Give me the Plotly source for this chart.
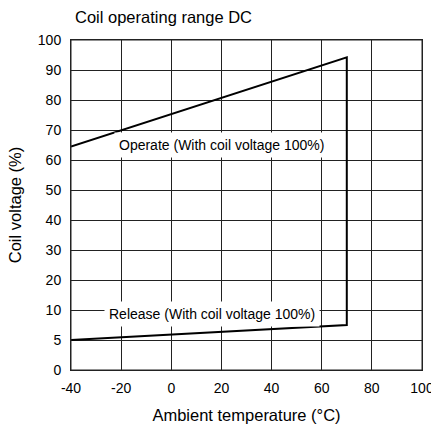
import numpy as np
import plotly.graph_objects as go

# Data
temperature = [-40, 70, 70, -40]          # °C
coil_voltage = [64.5, 94.2, 7.5, 5.0]     # %
x_ticks = [-40, -20, 0, 20, 40, 60, 80, 100]
y_levels = [0, 5, 10, 20, 30, 40, 50, 60, 70, 80, 90, 100]
y_tick_labels = [str(v) for v in y_levels]
operate_label = "Operate (With coil voltage 100%)"
release_label = "Release (With coil voltage 100%)"

# Piecewise axis: each labelled level is equally spaced
y_pos_levels = list(range(len(y_levels)))


def ypos(v):
    return np.interp(v, y_levels, y_pos_levels)


FONT = "Liberation Sans, Arial, sans-serif"

fig = go.Figure()
fig.add_trace(go.Scatter(
    x=temperature,
    y=ypos(coil_voltage),
    mode="lines",
    line=dict(color="black", width=2),
    hoverinfo="skip",
    showlegend=False,
))

fig.add_annotation(x=20.2, y=ypos(65), text=operate_label, showarrow=False,
                   bgcolor="white", borderpad=4,
                   font=dict(family=FONT, size=14, color="black"))
fig.add_annotation(x=16.2, y=ypos(9.3), text=release_label, showarrow=False,
                   bgcolor="white", borderpad=4,
                   font=dict(family=FONT, size=14, color="black"))

# plot-area frame (paper coordinates)
fig.add_shape(type="rect", xref="paper", yref="paper", x0=0, y0=0, x1=1, y1=1,
              line=dict(color="#222", width=1), layer="above")

fig.update_layout(
    width=431, height=429,
    margin=dict(l=71, r=9, t=40, b=59, autoexpand=False),
    paper_bgcolor="white", plot_bgcolor="white",
    font=dict(family=FONT, size=14, color="black"),
    title=dict(text="Coil operating range DC", x=75 / 431, xref="container", xanchor="left",
               y=1 - 17 / 429, yref="container", yanchor="middle", automargin=False,
               font=dict(family=FONT, size=16.5, color="black")),
)
fig.update_xaxes(
    range=[-40, 100], tickvals=x_ticks, ticktext=[str(v) for v in x_ticks],
    showgrid=True, gridcolor="#222", gridwidth=1,
    showline=True, linecolor="#222", linewidth=1, mirror=True,
    zeroline=False, ticks="outside", ticklen=5, tickcolor="white",
    ticklabeloverflow="allow",
    automargin=False,
    title=dict(text="Ambient temperature (°C)", standoff=14,
               font=dict(family=FONT, size=16.5)),
    tickfont=dict(family=FONT, size=14),
)
fig.update_yaxes(
    range=[0, len(y_levels) - 1], tickvals=y_pos_levels, ticktext=y_tick_labels,
    showgrid=True, gridcolor="#222", gridwidth=1,
    showline=True, linecolor="#222", linewidth=1, mirror=True,
    zeroline=False, ticks="outside", ticklen=6, tickcolor="white",
    ticklabeloverflow="allow",
    automargin=False,
    title=dict(text="Coil voltage (%)", standoff=12,
               font=dict(family=FONT, size=16.5)),
    tickfont=dict(family=FONT, size=14),
)

fig.write_html(
    "out.html",
    config={"displayModeBar": False},
    post_script="document.body.style.margin='0';document.body.style.overflow='hidden';",
)
